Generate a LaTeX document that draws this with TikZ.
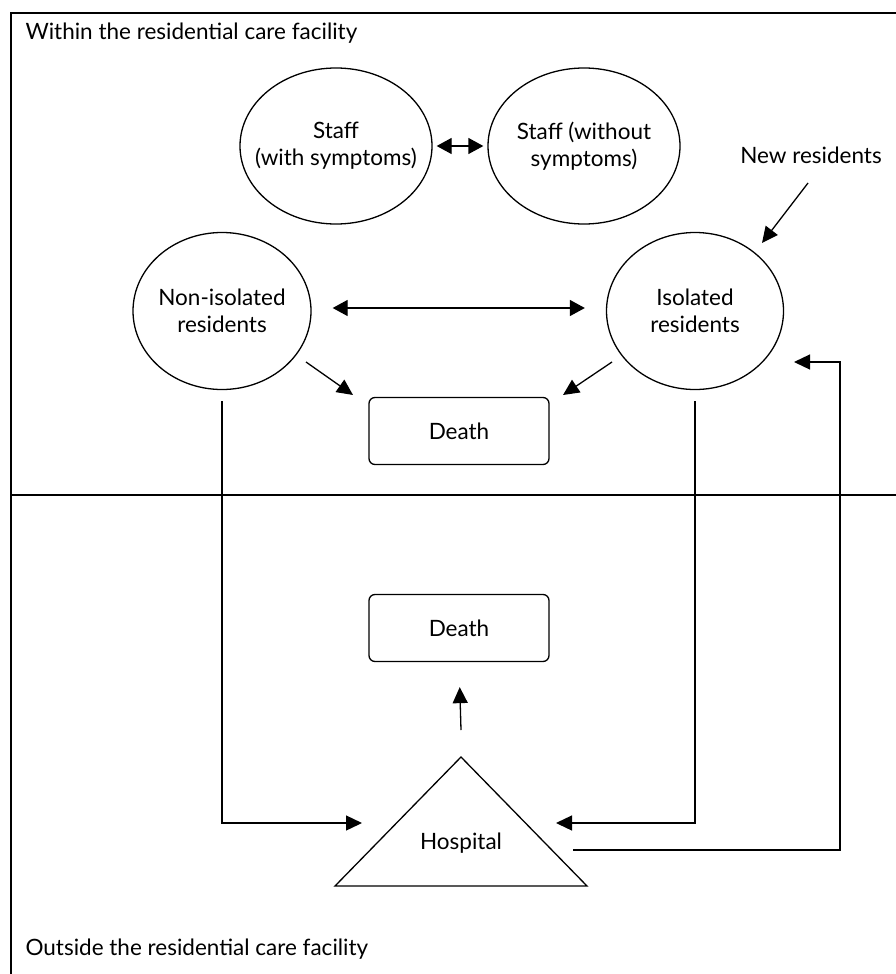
\documentclass[tikz,border=0pt]{standalone}
\usepackage{fontspec}
\setmainfont{Lato}
\usetikzlibrary{shapes.geometric,arrows.meta}

\tikzset{
  group/.style={draw, ellipse, line width=1.3pt, inner sep=-14pt, align=center},
  deathbox/.style={draw, rounded corners=6pt, line width=1.3pt, minimum width=180pt, minimum height=67pt},
  arr/.style={line width=1.3pt, -{Triangle[length=16pt,width=15pt]}},
  darr/.style={line width=1.3pt, {Triangle[length=15pt,width=16pt]}-{Triangle[length=15pt,width=16pt]}}
}

\begin{document}
\begin{tikzpicture}[x=1pt, y=-1pt, font=\fontsize{22.5}{27}\selectfont]
  \useasboundingbox (0,0) rectangle (896,974);
  \clip (0,0) rectangle (896,974);
  % frame and divider
  \draw[line width=1.6pt] (11,990) -- (11,13) -- (910,13);
  \draw[line width=1.6pt] (11,495) -- (910,495);
  \node[anchor=west] (inside) at (22,33) {Within the residential care facility};
  \node[anchor=west] (outside) at (22,949) {Outside the residential care facility};

  % staff
  \node[group, minimum width=192pt, minimum height=156pt] (staffS) at (336,146) {Staff\\(with symptoms)};
  \node[group, minimum width=192pt, minimum height=156pt] (staffN) at (584,146) {Staff (without\\symptoms)};
  \draw[darr, shorten <=4pt, shorten >=4pt] (staffS.east) -- (staffN.west);

  % residents
  \node[group, minimum width=178pt, minimum height=157pt] (nonIso) at (222,311) {Non-isolated\\residents};
  \node[group, minimum width=177pt, minimum height=157pt] (iso) at (695,311) {Isolated\\residents};
  \node (newRes) at (811,155) {New residents};
  \coordinate (newOut) at (808,183);
  \draw[arr] (newOut) -- (762,243);
  \draw[darr, shorten <=21pt, shorten >=21pt] ([yshift=3pt]nonIso.east) -- ([yshift=3pt]iso.west);

  % deaths
  \node[deathbox] (death1) at (459,431) {Death};
  \node[deathbox] (death2) at (459,628) {Death};
  \coordinate (nonOut) at (306,362);
  \coordinate (isoOut) at (612,362);
  \draw[arr] (nonOut) -- (353,395);
  \draw[arr] (isoOut) -- (563,395);

  % hospital
  \coordinate (hospTop) at (461,757);
  \draw[line width=1.3pt] (hospTop) -- (587,886) -- (335,886) -- cycle;
  \node (hosp) at (461,843) {Hospital};
  \coordinate (hospL) at (362,823);
  \coordinate (hospR) at (556,823);
  \coordinate (isoIn) at (794,362);
  \draw[arr, shorten >=25pt] ([yshift=27pt]hospTop) -- (death2.south);
  \draw[arr, shorten <=11pt] (nonIso.south) |- (hospL);
  \draw[arr, shorten <=11pt] (iso.south) |- (hospR);
  \draw[arr] (573,850) -| (840,362) -- (isoIn);
\end{tikzpicture}
\end{document}
